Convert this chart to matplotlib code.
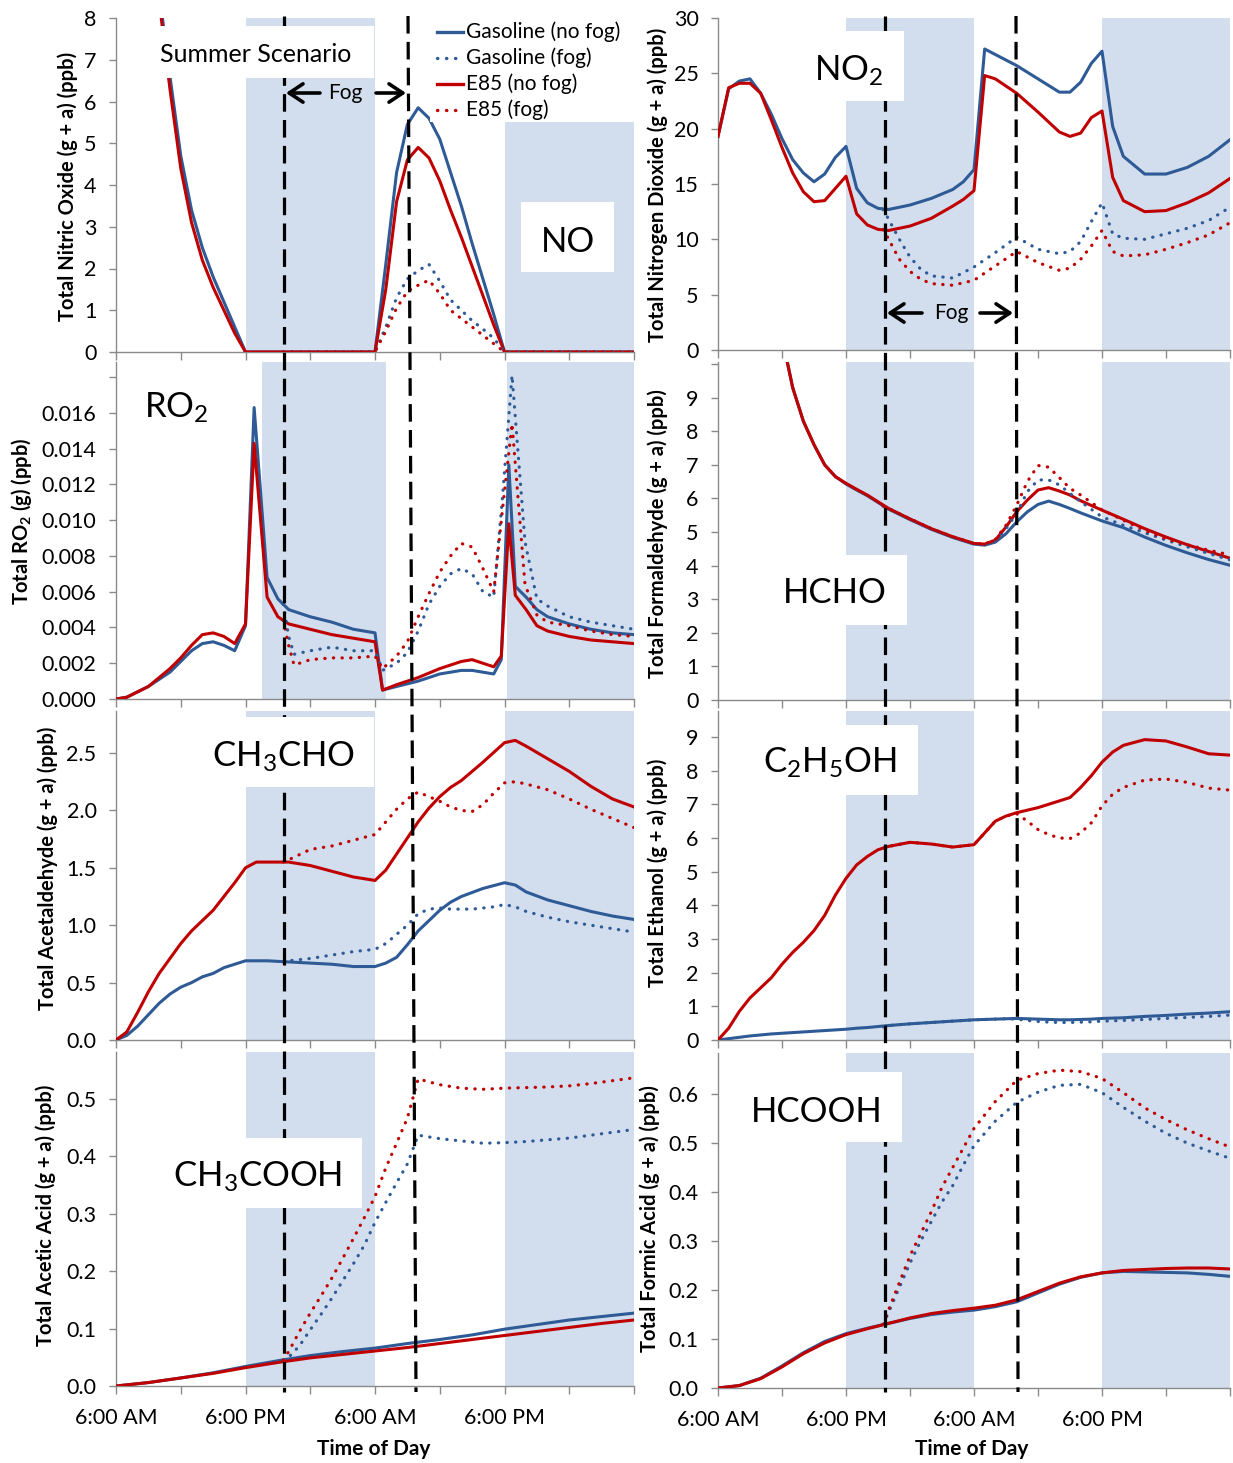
import numpy as np
import matplotlib
matplotlib.use('Agg')
import matplotlib.pyplot as plt
from matplotlib.lines import Line2D
from matplotlib.patches import Rectangle, FancyArrowPatch

plt.rcParams['font.family'] = ['Lato', 'DejaVu Sans']
plt.rcParams['mathtext.default'] = 'regular'

# time is in hours after 6:00 AM of the first day
# ---- NO ----
no_t = [3, 4, 5, 6, 7, 8, 9, 10, 11, 12, 24, 25, 26, 27, 28, 29, 30, 31, 32, 33, 34, 35, 36, 48]
no_gas = [10.8, 8.6, 6.6, 4.7, 3.4, 2.5, 1.8, 1.2, 0.6, 0.0, 0.0, 2.1, 4.3, 5.45, 5.85, 5.6, 5.1, 4.3, 3.5, 2.6, 1.75, 0.9, 0.0, 0.0]
no_e85 = [10.5, 8.4, 6.3, 4.4, 3.1, 2.2, 1.55, 1.0, 0.45, 0.0, 0.0, 1.5, 3.6, 4.6, 4.9, 4.65, 4.1, 3.4, 2.75, 2.05, 1.35, 0.65, 0.0, 0.0]
no_fog_t = [15.5, 24, 25, 26, 27, 28, 29, 30, 31, 32, 33, 34, 35, 36, 48]
no_gas_fog = [0.0, 0.0, 0.6, 1.3, 1.75, 1.95, 2.1, 1.7, 1.25, 1.0, 0.75, 0.55, 0.33, 0.0, 0.0]
no_e85_fog = [0.0, 0.0, 0.5, 1.05, 1.45, 1.6, 1.72, 1.4, 1.0, 0.8, 0.6, 0.4, 0.2, 0.0, 0.0]

# ---- NO2 ----
no2_t = [0, 1, 2, 3, 4, 5, 6, 7, 8, 9, 10, 11, 12, 13, 14, 15, 16, 18, 20, 22, 23, 24,
         25, 26, 28, 30, 32, 33, 34, 35, 36, 37, 38, 40, 42, 44, 46, 48]
no2_gas = [19.3, 23.6, 24.3, 24.5, 23.2, 21.3, 19.1, 17.2, 16.0, 15.2, 15.9, 17.4, 18.4, 14.6, 13.3, 12.8, 12.7,
           13.1, 13.7, 14.5, 15.2, 16.3, 27.2, 26.7, 25.7, 24.5, 23.3, 23.3, 24.2, 25.9, 27.0,
           20.2, 17.5, 15.9, 15.9, 16.5, 17.5, 19.0]
no2_e85 = [19.3, 23.7, 24.1, 24.1, 23.2, 20.8, 18.3, 16.0, 14.3, 13.4, 13.5, 14.6, 15.7, 12.3, 11.3, 10.9, 10.8,
           11.2, 11.9, 13.0, 13.6, 14.4, 24.8, 24.5, 23.2, 21.5, 19.7, 19.3, 19.6, 21.0, 21.6,
           15.6, 13.5, 12.5, 12.6, 13.3, 14.2, 15.5]
no2_fog_t = [15.5, 17, 18, 19, 20, 22, 24, 26, 28, 30, 32, 33, 34, 35, 36, 37, 38, 40, 42, 44, 46, 48]
no2_gas_fog = [12.7, 10.0, 8.4, 7.3, 6.7, 6.5, 7.5, 8.8, 10.2, 9.1, 8.7, 8.9, 9.8, 11.6, 13.3, 10.5, 10.1, 10.0, 10.5, 11.0, 11.7, 12.9]
no2_e85_fog = [10.9, 8.2, 7.1, 6.4, 6.0, 5.85, 6.3, 7.6, 8.9, 7.9, 7.2, 7.4, 8.2, 9.4, 10.8, 8.9, 8.5, 8.6, 9.1, 9.7, 10.4, 11.5]

# ---- RO2 ----
ro2_t = [0, 1, 2, 3, 4, 5, 6, 7, 8, 9, 10, 11, 12, 12.8, 14, 15, 16, 18, 20, 22, 24, 24.7,
         26, 28, 30, 32, 33, 34, 35, 35.7, 36.4, 37, 38, 39, 40, 42, 44, 46, 48]
ro2_gas = [0.0, 0.0001, 0.0004, 0.0007, 0.0011, 0.0015, 0.0021, 0.0027, 0.0031, 0.0032, 0.0030, 0.0027, 0.0041,
           0.0163, 0.0068, 0.0056, 0.0050, 0.0046, 0.0043, 0.0039, 0.0037, 0.0005,
           0.0007, 0.0010, 0.0014, 0.0016, 0.0016, 0.0015, 0.0014, 0.0022, 0.0131, 0.0063,
           0.0057, 0.0050, 0.0046, 0.0042, 0.0039, 0.0037, 0.0036]
ro2_e85 = [0.0, 0.0001, 0.0004, 0.0007, 0.0012, 0.0017, 0.0023, 0.0030, 0.0036, 0.0037, 0.0035, 0.0031, 0.0042,
           0.0143, 0.0057, 0.0046, 0.0042, 0.0039, 0.0036, 0.0034, 0.0032, 0.0005,
           0.0008, 0.0012, 0.0017, 0.0021, 0.0022, 0.0020, 0.0018, 0.0024, 0.0098, 0.0058,
           0.0050, 0.0041, 0.0038, 0.0035, 0.0033, 0.0032, 0.0031]
ro2_fog_t = [15.5, 16, 16.5, 18, 20, 22, 24, 24.7, 26, 27, 28, 29, 30, 31, 32, 33, 34, 35,
             35.8, 36.7, 37.9, 39, 40, 42, 44, 46, 48]
ro2_gas_fog = [0.0053, 0.0035, 0.0025, 0.0027, 0.0029, 0.0027, 0.0027, 0.0016, 0.0020, 0.0026, 0.0038, 0.0053,
               0.0063, 0.0070, 0.0073, 0.0070, 0.0060, 0.0057, 0.0112, 0.0181, 0.0088, 0.0056, 0.0052,
               0.0046, 0.0043, 0.0041, 0.0039]
ro2_e85_fog = [0.0044, 0.0030, 0.0019, 0.0022, 0.0023, 0.0023, 0.0024, 0.0017, 0.0024, 0.0032, 0.0046, 0.0059,
               0.0071, 0.0080, 0.0087, 0.0085, 0.0073, 0.0060, 0.0105, 0.0154, 0.0064, 0.0047, 0.0043,
               0.0041, 0.0038, 0.0036, 0.0035]

# ---- HCHO ----
hcho_t = [6, 7, 8, 9, 10, 11, 12, 13, 14, 16, 18, 20, 22, 24, 25, 26, 27, 28, 29, 30, 31, 32, 33, 34,
          36, 38, 40, 42, 44, 46, 48]
hcho_gas = [10.8, 9.3, 8.3, 7.6, 7.0, 6.65, 6.43, 6.25, 6.08, 5.68, 5.37, 5.08, 4.84, 4.64,
            4.61, 4.70, 4.95, 5.3, 5.6, 5.82, 5.92, 5.82, 5.7, 5.57, 5.33, 5.13, 4.85, 4.6, 4.38, 4.18, 4.01]
hcho_e85 = [10.8, 9.3, 8.3, 7.6, 7.0, 6.65, 6.45, 6.27, 6.1, 5.7, 5.39, 5.1, 4.86, 4.66,
            4.64, 4.76, 5.15, 5.6, 5.95, 6.25, 6.32, 6.22, 6.1, 5.93, 5.65, 5.38, 5.1, 4.85, 4.62, 4.42, 4.22]
hcho_fog_t = [15.5, 16, 18, 20, 22, 24, 25, 26, 27, 28, 29, 30, 31, 32, 33, 34, 36, 38, 40, 42, 44, 46, 48]
hcho_gas_fog = [5.77, 5.7, 5.38, 5.09, 4.85, 4.65, 4.62, 4.74, 5.1, 5.55, 6.2, 6.55, 6.55, 6.4, 6.15, 5.9,
                5.45, 5.2, 4.98, 4.76, 4.56, 4.36, 4.17]
hcho_e85_fog = [5.77, 5.7, 5.39, 5.1, 4.86, 4.66, 4.64, 4.78, 5.2, 5.8, 6.5, 6.98, 6.93, 6.62, 6.3, 6.1,
                5.66, 5.35, 5.05, 4.8, 4.62, 4.46, 4.32]

# ---- CH3CHO ----
acet_t = [0, 1, 2, 3, 4, 5, 6, 7, 8, 9, 10, 11, 12, 13, 14, 16, 18, 20, 22, 24,
          25, 26, 27, 28, 29, 30, 31, 32, 34, 36, 37, 38, 40, 42, 44, 46, 48]
acet_gas = [0.0, 0.04, 0.12, 0.22, 0.32, 0.40, 0.46, 0.50, 0.55, 0.58, 0.63, 0.66, 0.69, 0.69, 0.69,
            0.68, 0.67, 0.66, 0.64, 0.64, 0.67, 0.72, 0.83, 0.95, 1.04, 1.13, 1.20, 1.25, 1.32, 1.37,
            1.35, 1.29, 1.22, 1.17, 1.12, 1.08, 1.05]
acet_e85 = [0.0, 0.07, 0.24, 0.42, 0.58, 0.71, 0.84, 0.95, 1.04, 1.13, 1.25, 1.37, 1.50, 1.55, 1.55,
            1.55, 1.52, 1.47, 1.42, 1.39, 1.48, 1.62, 1.76, 1.90, 2.02, 2.12, 2.20, 2.26, 2.42, 2.59,
            2.61, 2.56, 2.45, 2.34, 2.21, 2.10, 2.03]
acet_fog_t = [15.5, 16, 18, 20, 22, 24, 25, 26, 27, 28, 29, 30, 31, 32, 33, 34, 35, 36, 37, 38,
              40, 42, 44, 46, 48]
acet_gas_fog = [0.68, 0.69, 0.71, 0.74, 0.77, 0.79, 0.84, 0.92, 1.00, 1.10, 1.14, 1.15, 1.14, 1.14, 1.14,
                1.15, 1.16, 1.18, 1.16, 1.12, 1.07, 1.03, 1.00, 0.97, 0.94]
acet_e85_fog = [1.55, 1.57, 1.66, 1.69, 1.74, 1.79, 1.90, 2.01, 2.10, 2.16, 2.12, 2.08, 2.03, 2.00, 1.99,
                2.05, 2.15, 2.24, 2.25, 2.23, 2.18, 2.10, 2.01, 1.93, 1.85]

# ---- C2H5OH ----
eth_t = [0, 1, 2, 3, 4, 5, 6, 7, 8, 9, 10, 11, 12, 13, 14, 15, 16, 18, 20, 22, 24,
         25, 26, 27, 28, 30, 32, 33, 34, 35, 36, 37, 38, 40, 42, 44, 46, 48]
eth_gas = [0.0, 0.04, 0.08, 0.12, 0.15, 0.18, 0.20, 0.22, 0.24, 0.26, 0.28, 0.30, 0.32, 0.35, 0.37, 0.40, 0.43,
           0.48, 0.52, 0.56, 0.60, 0.61, 0.62, 0.63, 0.64, 0.62, 0.60, 0.60, 0.61, 0.62, 0.64, 0.65, 0.66,
           0.70, 0.73, 0.77, 0.80, 0.84]
eth_e85 = [0.0, 0.35, 0.85, 1.25, 1.55, 1.85, 2.25, 2.6, 2.9, 3.25, 3.7, 4.3, 4.8, 5.2, 5.45, 5.65, 5.75,
           5.87, 5.82, 5.73, 5.8, 6.15, 6.5, 6.65, 6.75, 6.9, 7.1, 7.2, 7.5, 7.85, 8.25, 8.55, 8.75,
           8.92, 8.88, 8.7, 8.5, 8.46]
eth_fog_t = [15.5, 16, 18, 20, 22, 24, 25, 26, 27, 28, 29, 30, 31, 32, 33, 34, 35, 36, 37, 38,
             40, 42, 44, 46, 48]
eth_gas_fog = [0.39, 0.43, 0.48, 0.52, 0.56, 0.60, 0.61, 0.62, 0.63, 0.62, 0.58, 0.55, 0.53, 0.52, 0.52,
               0.53, 0.54, 0.56, 0.57, 0.58, 0.61, 0.64, 0.67, 0.70, 0.74]
eth_e85_fog = [5.7, 5.75, 5.87, 5.82, 5.73, 5.8, 6.15, 6.5, 6.65, 6.72, 6.5, 6.25, 6.1, 6.0, 5.98,
               6.15, 6.45, 6.95, 7.3, 7.5, 7.72, 7.75, 7.65, 7.48, 7.42]

# ---- CH3COOH ----
aa_t = [0, 3, 6, 9, 12, 15, 18, 21, 24, 27, 30, 33, 36, 39, 42, 45, 48]
aa_gas = [0.0, 0.006, 0.014, 0.023, 0.034, 0.044, 0.053, 0.060, 0.066, 0.074, 0.081, 0.089, 0.099, 0.107, 0.115, 0.121, 0.127]
aa_e85 = [0.0, 0.006, 0.014, 0.022, 0.032, 0.041, 0.049, 0.055, 0.061, 0.067, 0.074, 0.081, 0.088, 0.095, 0.102, 0.109, 0.115]
aa_fog_t = [15.5, 16, 17, 18, 19, 20, 21, 22, 23, 24, 25, 26, 27, 28, 29, 30, 32, 34, 36, 38, 40, 42, 44, 46, 48]
aa_gas_fog = [0.045, 0.050, 0.070, 0.098, 0.125, 0.153, 0.183, 0.213, 0.245, 0.285, 0.320, 0.354, 0.387, 0.437,
              0.434, 0.431, 0.427, 0.423, 0.424, 0.426, 0.429, 0.432, 0.437, 0.442, 0.447]
aa_e85_fog = [0.045, 0.060, 0.095, 0.127, 0.157, 0.188, 0.222, 0.257, 0.293, 0.330, 0.380, 0.423, 0.467, 0.535,
              0.530, 0.525, 0.519, 0.517, 0.519, 0.520, 0.521, 0.523, 0.527, 0.532, 0.537]

# ---- HCOOH ----
fa_t = [0, 2, 4, 6, 8, 10, 12, 14, 16, 18, 20, 22, 24, 26, 28, 30, 32, 34, 36, 38, 40, 42, 44, 46, 48]
fa_gas = [0.0, 0.005, 0.020, 0.045, 0.072, 0.095, 0.111, 0.122, 0.132, 0.142, 0.150, 0.155, 0.159, 0.166, 0.176,
          0.194, 0.212, 0.226, 0.235, 0.238, 0.237, 0.236, 0.235, 0.232, 0.228]
fa_e85 = [0.0, 0.005, 0.019, 0.043, 0.070, 0.092, 0.109, 0.121, 0.132, 0.143, 0.152, 0.158, 0.163, 0.169, 0.180,
          0.197, 0.214, 0.227, 0.235, 0.240, 0.242, 0.244, 0.245, 0.245, 0.243]
fa_fog_t = [15.5, 16, 17, 18, 19, 20, 21, 22, 23, 24, 26, 28, 30, 32, 34, 36, 38, 40, 42, 44, 46, 48]
fa_gas_fog = [0.130, 0.155, 0.205, 0.255, 0.300, 0.340, 0.380, 0.413, 0.455, 0.495, 0.545, 0.583, 0.604, 0.618,
              0.620, 0.603, 0.573, 0.545, 0.520, 0.500, 0.484, 0.469]
fa_e85_fog = [0.130, 0.160, 0.215, 0.270, 0.315, 0.360, 0.410, 0.450, 0.490, 0.530, 0.585, 0.628, 0.642, 0.649,
              0.646, 0.632, 0.603, 0.572, 0.548, 0.527, 0.509, 0.492]

BLUE = '#2E5A96'
RED = '#C00000'
NIGHT = '#D2DDED'
GREY = '#8A8A8A'
DOT = (0, (0.1, 2.6))

W, H = 1233, 1463
fig = plt.figure(figsize=(W / 100, H / 100), dpi=100)
fig.patch.set_facecolor('white')


def fxy(x, y):
    return x / W, 1 - y / H


def panel(x0, x1, y0, y1, ymax, step, fmt, label_top, nights, bottom=False):
    ax = fig.add_axes([x0 / W, 1 - y1 / H, (x1 - x0) / W, (y1 - y0) / H])
    ax.patch.set_alpha(0)
    for a, b in nights:
        ax.axvspan(a, b, color=NIGHT, lw=0, zorder=0)
    ax.set_xlim(0, 48)
    ax.set_ylim(0, ymax)
    ax.set_xticks(np.arange(0, 49, 6))
    if bottom:
        ax.set_xticklabels(['6:00 AM', '', '6:00 PM', '', '6:00 AM', '', '6:00 PM', '', ''])
    else:
        ax.set_xticklabels([])
    ticks = np.arange(0, ymax + 1e-9, step)
    ax.set_yticks(ticks)
    ax.set_yticklabels([fmt.format(v) if v <= label_top + 1e-9 else '' for v in ticks])
    for s in ('top', 'right'):
        ax.spines[s].set_visible(False)
    for s in ('left', 'bottom'):
        ax.spines[s].set_color(GREY)
        ax.spines[s].set_linewidth(1)
    ax.tick_params(axis='both', color=GREY, width=1, labelsize=15.5)
    ax.tick_params(axis='y', length=5, pad=9)
    ax.tick_params(axis='x', length=6, pad=10)
    return ax


def draw(ax, t, gas, e85, tf, gas_fog, e85_fog):
    ax.plot(t, gas, color=BLUE, lw=2.2, zorder=3)
    ax.plot(t, e85, color=RED, lw=2.2, zorder=3)
    ax.plot(tf, gas_fog, color=BLUE, lw=2.3, ls=DOT, dash_capstyle='round', zorder=4)
    ax.plot(tf, e85_fog, color=RED, lw=2.3, ls=DOT, dash_capstyle='round', zorder=4)


nights = [(12, 24), (36, 48)]
LX0, LX1, RX0, RX1 = 116, 634, 718, 1230

ax = panel(LX0, LX1, 18, 352, 8, 1, '{:.0f}', 8, nights)
draw(ax, no_t, no_gas, no_e85, no_fog_t, no_gas_fog, no_e85_fog)
ax = panel(RX0, RX1, 18, 350, 30, 5, '{:.0f}', 30, nights)
draw(ax, no2_t, no2_gas, no2_e85, no2_fog_t, no2_gas_fog, no2_e85_fog)
ax = panel(LX0, LX1, 362, 699, 0.01885, 0.002, '{:.3f}', 0.016, [(13.5, 25), (36.2, 48)])
draw(ax, ro2_t, ro2_gas, ro2_e85, ro2_fog_t, ro2_gas_fog, ro2_e85_fog)
ax = panel(RX0, RX1, 362, 700, 10.06, 1, '{:.0f}', 9, nights)
draw(ax, hcho_t, hcho_gas, hcho_e85, hcho_fog_t, hcho_gas_fog, hcho_e85_fog)
ax = panel(LX0, LX1, 711, 1040, 2.866, 0.5, '{:.1f}', 2.5, nights)
draw(ax, acet_t, acet_gas, acet_e85, acet_fog_t, acet_gas_fog, acet_e85_fog)
ax = panel(RX0, RX1, 711, 1040, 9.77, 1, '{:.0f}', 9, nights)
draw(ax, eth_t, eth_gas, eth_e85, eth_fog_t, eth_gas_fog, eth_e85_fog)
ax = panel(LX0, LX1, 1052, 1386, 0.582, 0.1, '{:.1f}', 0.5, nights, bottom=True)
draw(ax, aa_t, aa_gas, aa_e85, aa_fog_t, aa_gas_fog, aa_e85_fog)
ax = panel(RX0, RX1, 1053, 1388, 0.684, 0.1, '{:.1f}', 0.6, nights, bottom=True)
draw(ax, fa_t, fa_gas, fa_e85, fa_fog_t, fa_gas_fog, fa_e85_fog)

# fog onset / end markers running through every panel of a column
for xa, xb in [(284, 284), (408, 416), (885, 885), (1016, 1018)]:
    fig.add_artist(Line2D([xa / W, xb / W], [1 - 16 / H, 1 - 1392 / H], transform=fig.transFigure,
                          color='black', lw=2.3, ls=(0, (5.5, 2.6)), zorder=3))

# white name boxes
boxes = [
    (140, 374, 26, 78, 'Summer Scenario', 256, 62, 18),
    (521, 614, 202, 272, 'NO', 568, 252, 25),
    (790, 904, 31, 101, 'NO$_2$', 849, 81, 25),
    (782, 907, 555, 625, 'HCHO', 835, 603, 25),
    (195, 374, 717, 787, 'CH$_3$CHO', 284, 767, 25),
    (745, 918, 725, 795, 'C$_2$H$_5$OH', 830, 773, 25),
    (155, 362, 1138, 1208, 'CH$_3$COOH', 258, 1187, 25),
    (735, 902, 1072, 1142, 'HCOOH', 817, 1122, 25),
]
for x0, x1, y0, y1, label, tx, ty, size in boxes:
    fig.add_artist(Rectangle(fxy(x0, y1), (x1 - x0) / W, (y1 - y0) / H, transform=fig.transFigure,
                             facecolor='white', edgecolor='none', zorder=6))
    fig.text(*fxy(tx, ty), label, fontsize=size, ha='center', va='baseline', zorder=7)
fig.text(*fxy(176, 418), 'RO$_2$', fontsize=25, ha='center', va='baseline', zorder=7)

# legend area
fig.add_artist(Rectangle(fxy(430, 122), 210 / W, 108 / H, transform=fig.transFigure,
                         facecolor='white', edgecolor='none', zorder=6))
legend_items = [('Gasoline (no fog)', BLUE, '-'), ('Gasoline (fog)', BLUE, DOT),
                ('E85 (no fog)', RED, '-'), ('E85 (fog)', RED, DOT)]
for i, (label, color, ls) in enumerate(legend_items):
    y = 32 + 26 * i
    fig.add_artist(Line2D([437 / W, 463 / W], [1 - y / H] * 2, transform=fig.transFigure, color=color,
                          lw=2.4, ls=ls, dash_capstyle='round', zorder=7))
    fig.text(*fxy(466, y), label, fontsize=15, ha='left', va='center', zorder=7)

# fog arrows
for y, lh, lt, tx, rt, rh in [(93, 286, 320, 345, 376, 406), (313, 887, 922, 951, 980, 1013)]:
    for tail, head in ((lt, lh), (rt, rh)):
        fig.add_artist(FancyArrowPatch(fxy(tail, y), fxy(head, y), transform=fig.transFigure,
                                       arrowstyle='->,head_length=0.45,head_width=0.3', mutation_scale=22,
                                       lw=2.6, color='black', shrinkA=0, shrinkB=0, zorder=8))
    fig.text(*fxy(tx, y), 'Fog', fontsize=15, ha='center', va='center', zorder=8)

# y axis titles
ylabels = [
    (68, 186, 'Total Nitric Oxide (g + a) (ppb)'),
    (658, 185, 'Total Nitrogen Dioxide (g + a) (ppb)'),
    (22, 521, 'Total RO$_2$ (g) (ppb)'),
    (658, 534, 'Total Formaldehyde (g + a) (ppb)'),
    (48, 868, 'Total Acetaldehyde (g + a) (ppb)'),
    (658, 873, 'Total Ethanol (g + a) (ppb)'),
    (46, 1215, 'Total Acetic Acid (g + a) (ppb)'),
    (650, 1219, 'Total Formic Acid (g + a) (ppb)'),
]
for x, y, label in ylabels:
    fig.text(*fxy(x, y), label, rotation=90, fontsize=14.5, fontweight='bold', ha='center', va='center')

for x in (374, 972):
    fig.text(*fxy(x, 1449), 'Time of Day', fontsize=15, fontweight='bold', ha='center', va='center')

fig.savefig('out.png', dpi=100, facecolor='white')
